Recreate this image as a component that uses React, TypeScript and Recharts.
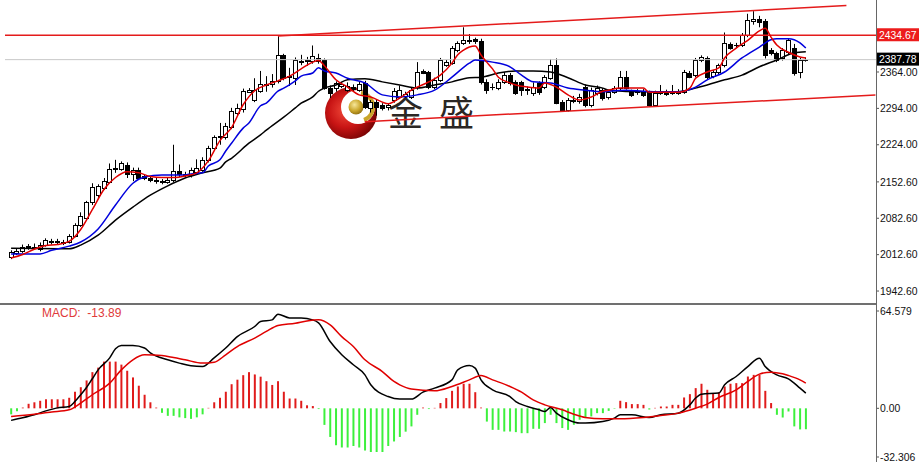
import React from 'react';
import { ComposedChart, Bar, Line, XAxis, YAxis, ReferenceLine, Cell } from 'recharts';

// daily candles, oldest first
const opens = [
  2009, 2015, 2019, 2029, 2027, 2024, 2032, 2039, 2037, 2035, 2037, 2049, 2070, 2084, 2113, 2127, 2141, 2153, 2177, 2178,
  2185, 2167, 2176, 2163, 2161, 2156, 2152, 2153, 2157, 2174, 2166, 2166, 2172, 2176, 2195, 2217, 2238, 2238, 2258, 2286,
  2292, 2326, 2310, 2328, 2339, 2340, 2347, 2396, 2354, 2352, 2384, 2385, 2385, 2391, 2387, 2334, 2333, 2338, 2330, 2336,
  2330, 2343, 2295, 2306, 2300, 2296, 2310, 2316, 2318, 2316, 2335, 2366, 2364, 2335, 2349, 2377, 2381, 2406, 2419, 2424,
  2427, 2424, 2345, 2335, 2333, 2345, 2358, 2345, 2344, 2330, 2324, 2343, 2335, 2353, 2377, 2306, 2291, 2309, 2308, 2335,
  2301, 2324, 2330, 2316, 2326, 2333, 2354, 2326, 2325, 2328, 2326, 2301, 2323, 2324, 2323, 2326, 2326, 2362, 2358, 2387,
  2391, 2356, 2364, 2377, 2418, 2415, 2416, 2435, 2463, 2465, 2462, 2406, 2400, 2390, 2402, 2410, 2364, 2387,
];
const highs = [
  2021, 2024, 2032, 2033, 2034, 2036, 2044, 2043, 2043, 2041, 2052, 2073, 2094, 2116, 2150, 2148, 2160, 2188, 2195, 2192,
  2190, 2180, 2180, 2166, 2164, 2160, 2158, 2160, 2224, 2186, 2172, 2180, 2196, 2200, 2222, 2242, 2266, 2266, 2295, 2303,
  2332, 2333, 2352, 2366, 2356, 2360, 2433, 2399, 2372, 2392, 2397, 2393, 2415, 2399, 2390, 2338, 2346, 2345, 2344, 2340,
  2346, 2347, 2310, 2312, 2304, 2304, 2333, 2338, 2326, 2334, 2383, 2369, 2366, 2353, 2391, 2387, 2414, 2423, 2450, 2437,
  2430, 2428, 2350, 2342, 2350, 2364, 2362, 2348, 2347, 2336, 2344, 2346, 2358, 2389, 2390, 2310, 2314, 2318, 2322, 2340,
  2334, 2338, 2333, 2330, 2337, 2366, 2366, 2330, 2331, 2331, 2328, 2328, 2339, 2330, 2339, 2331, 2368, 2366, 2391, 2396,
  2394, 2368, 2380, 2440, 2421, 2420, 2439, 2476, 2481, 2472, 2466, 2410, 2403, 2410, 2428, 2418, 2391, 2392,
];
const lows = [
  2004, 2012, 2016, 2022, 2022, 2019, 2028, 2032, 2033, 2031, 2034, 2046, 2066, 2080, 2108, 2122, 2137, 2150, 2170, 2174,
  2160, 2154, 2156, 2156, 2152, 2149, 2148, 2149, 2152, 2162, 2162, 2161, 2168, 2172, 2190, 2212, 2224, 2234, 2254, 2281,
  2286, 2324, 2306, 2324, 2326, 2334, 2342, 2348, 2337, 2339, 2377, 2376, 2380, 2380, 2330, 2314, 2326, 2333, 2326, 2326,
  2326, 2293, 2286, 2280, 2290, 2290, 2305, 2312, 2314, 2312, 2330, 2360, 2331, 2331, 2345, 2374, 2378, 2402, 2416, 2418,
  2418, 2340, 2322, 2329, 2329, 2341, 2338, 2320, 2318, 2320, 2318, 2320, 2331, 2349, 2302, 2288, 2288, 2304, 2303, 2296,
  2296, 2319, 2309, 2311, 2322, 2328, 2330, 2316, 2320, 2316, 2297, 2297, 2320, 2318, 2320, 2320, 2322, 2352, 2354, 2383,
  2350, 2352, 2360, 2373, 2407, 2410, 2412, 2431, 2455, 2450, 2390, 2396, 2383, 2386, 2398, 2357, 2352, 2384,
];
const closes = [
  2017, 2020, 2028, 2026, 2028, 2032, 2040, 2036, 2039, 2037, 2049, 2070, 2086, 2113, 2143, 2144, 2155, 2178, 2179, 2188,
  2168, 2176, 2161, 2161, 2156, 2154, 2154, 2156, 2174, 2167, 2168, 2176, 2180, 2195, 2218, 2238, 2240, 2261, 2289, 2295,
  2328, 2329, 2330, 2341, 2341, 2347, 2397, 2352, 2357, 2387, 2386, 2387, 2394, 2386, 2333, 2324, 2342, 2340, 2338, 2332,
  2340, 2297, 2306, 2297, 2294, 2300, 2328, 2330, 2321, 2330, 2364, 2362, 2335, 2349, 2387, 2383, 2410, 2419, 2425, 2426,
  2423, 2345, 2329, 2336, 2345, 2358, 2343, 2324, 2330, 2331, 2335, 2326, 2354, 2377, 2305, 2291, 2310, 2311, 2316, 2301,
  2330, 2333, 2314, 2325, 2333, 2354, 2333, 2320, 2326, 2320, 2301, 2324, 2326, 2322, 2326, 2324, 2364, 2355, 2387, 2393,
  2354, 2364, 2377, 2420, 2410, 2416, 2435, 2464, 2465, 2461, 2397, 2400, 2387, 2406, 2425, 2362, 2387, 2388,
];

// moving averages at the candle index shown
const fastIdx = [0, 2, 4, 6, 8, 10, 12, 14, 16, 18, 20, 22, 24, 26, 28, 30, 32, 34, 36, 38, 40, 42, 44, 46, 48, 50, 52, 53, 54, 56, 58, 60, 62, 65, 67, 69, 72, 74, 76, 77, 78, 79, 80, 81, 82, 83, 84, 86, 87, 89, 91, 92, 94, 96, 98, 100, 102, 103, 105, 109, 110, 115, 117, 118, 120, 122, 123, 125, 127, 129, 130, 131, 132, 134, 136, 137];
const fastVal = [2006, 2013, 2023, 2030, 2032, 2038, 2061, 2099, 2138, 2161, 2172, 2170, 2163, 2161, 2161, 2164, 2170, 2193, 2232, 2257, 2301, 2328, 2339, 2347, 2356, 2370, 2383, 2386, 2376, 2349, 2335, 2320, 2316, 2303, 2314, 2329, 2345, 2358, 2381, 2397, 2406, 2412, 2414, 2397, 2383, 2370, 2354, 2343, 2339, 2335, 2333, 2343, 2335, 2320, 2310, 2316, 2327, 2329, 2333, 2333, 2325, 2325, 2333, 2352, 2364, 2372, 2391, 2410, 2425, 2443, 2448, 2431, 2416, 2402, 2393, 2391];

const midIdx = [0, 5, 7, 10, 12, 15, 18, 21, 23, 26, 30, 31, 33, 34, 36, 37, 38, 40, 41, 43, 44, 46, 47, 49, 50, 52, 53, 54, 56, 58, 61, 64, 67, 70, 73, 76, 79, 80, 83, 86, 88, 90, 93, 96, 99, 102, 103, 106, 109, 112, 115, 118, 120, 123, 126, 129, 131, 132, 134, 136, 137];
const midVal = [2014, 2014, 2021, 2029, 2037, 2062, 2108, 2150, 2162, 2166, 2166, 2168, 2170, 2183, 2195, 2212, 2227, 2256, 2266, 2299, 2304, 2327, 2333, 2347, 2356, 2362, 2372, 2366, 2362, 2352, 2343, 2320, 2316, 2320, 2329, 2354, 2381, 2387, 2383, 2374, 2358, 2345, 2343, 2333, 2329, 2326, 2327, 2329, 2327, 2326, 2326, 2335, 2349, 2364, 2391, 2412, 2426, 2428, 2428, 2420, 2410];

const slowIdx = [0, 10, 12, 15, 18, 21, 24, 27, 30, 33, 36, 37, 38, 41, 43, 44, 47, 49, 50, 52, 53, 54, 56, 58, 61, 64, 67, 70, 73, 76, 79, 81, 84, 87, 90, 93, 96, 99, 102, 103, 109, 115, 118, 120, 123, 126, 129, 132, 135, 137];
const slowVal = [2025, 2024, 2031, 2050, 2079, 2104, 2127, 2145, 2160, 2170, 2179, 2191, 2198, 2227, 2243, 2252, 2277, 2295, 2304, 2316, 2327, 2333, 2339, 2349, 2351, 2345, 2339, 2333, 2339, 2345, 2353, 2354, 2362, 2366, 2366, 2364, 2353, 2339, 2333, 2329, 2326, 2326, 2333, 2339, 2349, 2358, 2374, 2387, 2401, 2403];

// MACD panel
const histVals = [
  -4, -2, 0.5, 3, 4, 5, 6, 6, 6, 6, 7, 11, 14, 18.5, 24, 27, 31, 31, 31, 29,
  25, 20.5, 15, 9, 4, 0.5, -3, -5, -5, -6, -6.5, -7, -6, -4, 0.3, 4, 7, 11, 16, 19,
  22, 24, 22.5, 21, 18, 15.5, 18, 11, 6.5, 6.5, 5, 2, 1.5, -0.5, -11, -19, -24.5, -26, -26, -25,
  -26, -28, -29, -29, -29, -25, -22, -19, -15.5, -12, -4.3, 0.5, -0.5, 0.3, 3.5, 6.8, 11.6, 14.5, 16.3, 16.3,
  10.7, 0.5, -8.8, -14.3, -14.3, -15.4, -15.4, -15.8, -16.5, -16.5, -13.6, -13.6, -9.8, -4.3, -9.8, -13.1, -14.3, -10.9, -7.6, -6.5,
  -5.4, -3.2, -3.2, -1.7, -0.3, 5, 4.1, 2.8, 2.8, 2.3, -0.8, 0.3, 1.2, 1.2, 2.3, 2.3, 7.2, 9.4, 13.4, 16.3,
  12.3, 10.1, 10.7, 14.5, 16.3, 16.7, 16.7, 21.1, 22.2, 22.2, 11.6, 3.5, -4.3, -6.1, -2.1, -12, -14, -13.89,
];
const difIdx = [0, 2, 4, 6, 8, 10, 11, 12, 13, 14, 15, 17, 18, 19, 21, 23, 24, 27, 29, 31, 33, 35, 37, 39, 42, 43, 45, 46, 48, 50, 52, 53, 55, 57, 59, 61, 62, 65, 67, 69, 71, 73, 76, 77, 79, 80, 81, 83, 86, 87, 89, 91, 92, 93, 94, 96, 98, 99, 102, 104, 105, 107, 110, 112, 115, 117, 118, 119, 122, 123, 125, 127, 129, 130, 132, 134, 136, 137];
const difVal = [-8, -6.3, -4.3, -1.7, 0.3, 1.2, 4.5, 9, 13.8, 19.6, 25.5, 33.5, 39.5, 41.7, 41.7, 40, 36.8, 32.2, 30, 28.2, 27.7, 33.5, 40, 47.6, 54.3, 57.6, 58.7, 62.5, 60, 60, 58.7, 56.7, 44.3, 35.5, 28.9, 22.2, 15.6, 7.8, 6.1, 6.1, 10.7, 13.4, 18.9, 25.5, 28.4, 26.7, 18.9, 12.3, 7.8, 4.5, 1.2, -1, -2.1, 0.5, -3.2, -7.6, -9.8, -9.8, -8.8, -6.5, -4.3, -4.3, -6.1, -4.3, -3.2, 2.3, 6.8, 9.4, 10.1, 15.6, 21.1, 27.7, 33.3, 27.7, 22.2, 19.6, 13.4, 10.1];
const deaIdx = [0, 4, 7, 10, 12, 14, 17, 19, 21, 23, 26, 28, 30, 33, 35, 37, 39, 42, 44, 46, 49, 51, 53, 55, 57, 59, 61, 64, 66, 67, 69, 73, 76, 79, 81, 83, 86, 88, 90, 92, 95, 97, 99, 102, 105, 109, 112, 115, 118, 120, 122, 125, 127, 129, 131, 133, 134, 136, 137];
const deaVal = [-5.4, -3.9, -2.5, -1, 3.5, 9, 16.7, 25.5, 32.2, 35.5, 35, 33.7, 32.2, 30, 30.6, 35.5, 41, 46.6, 51, 55, 56.5, 58, 58.7, 55.4, 47.6, 41, 32.2, 24.4, 17.8, 15.6, 12.8, 11.6, 14.5, 18.9, 21.8, 18.9, 14.5, 10.7, 5.6, 2.3, -1, -3.9, -6.1, -7, -7, -6.1, -4.8, -3.2, 0.1, 2.8, 7.2, 12.3, 17.8, 22.7, 24, 22.9, 21.8, 18.9, 16.7];

const priceTicks = [2364, 2294, 2224, 2152.6, 2082.6, 2012.6, 1942.6];
const macdTicks = [64.579, 0, -32.306];
const resistance = 2434.67;
const lastPrice = 2387.78;
const upperChannel = [{ x: 46, y: 2433.3 }, { x: 144, y: 2491.9 }];
const lowerChannel = [{ x: 61, y: 2268.5 }, { x: 149, y: 2319.7 }];

const FONT = '"Liberation Sans", Arial, sans-serif';
const AXIS_FONT = 10.4;
const xDomain: [number, number] = [-1.05, 149.1];

const priceRows: any[] = opens.map((o, i) => ({ i, o, h: highs[i], l: lows[i], c: closes[i] }));
fastIdx.forEach((k, j) => { priceRows[k].fast = fastVal[j]; });
midIdx.forEach((k, j) => { priceRows[k].mid = midVal[j]; });
slowIdx.forEach((k, j) => { priceRows[k].slow = slowVal[j]; });

const macdRows: any[] = histVals.map((v, i) => ({ i, hist: v }));
difIdx.forEach((k, j) => { macdRows[k].dif = difVal[j]; });
deaIdx.forEach((k, j) => { macdRows[k].dea = deaVal[j]; });

function Candle(props: any) {
  const { x, y, width, height, payload } = props;
  const { o, h, l, c } = payload;
  if (x == null || y == null) return null;
  const top = Math.min(y, y + height);
  const k = h > l ? Math.abs(height) / (h - l) : 0;
  const py = (v: number) => top + (h - v) * k;
  const cx = Math.round(x + width / 2);
  const left = cx - 2;
  const bTop = Math.round(py(Math.max(o, c)));
  const bBot = Math.round(py(Math.min(o, c)));
  let body;
  if (bBot - bTop < 1) {
    body = <line x1={left} x2={left + 5} y1={bTop + 0.5} y2={bTop + 0.5} stroke="#000" />;
  } else if (c >= o) {
    body = <rect x={left + 0.5} y={bTop + 0.5} width={4} height={bBot - bTop} fill="#fff" stroke="#000" />;
  } else {
    body = <rect x={left} y={bTop} width={5} height={bBot - bTop + 1} fill="#000" />;
  }
  return (
    <g>
      <line x1={cx + 0.5} x2={cx + 0.5} y1={py(h)} y2={py(l)} stroke="#000" />
      {body}
    </g>
  );
}

function PriceTag(props: any) {
  const { viewBox, text, bg } = props;
  if (!viewBox) return null;
  const left = viewBox.x + viewBox.width + 1;
  return (
    <g>
      <rect x={left} y={viewBox.y - 7} width={42} height={13} fill={bg} />
      <text x={left + 2} y={viewBox.y + 3.5} fill="#fff" fontSize={AXIS_FONT} fontFamily={FONT}>{text}</text>
    </g>
  );
}

function Logo() {
  return (
    <div style={{ position: 'absolute', left: 320, top: 82 }}>
      <svg width={64} height={64}>
        <defs>
          <radialGradient id="redBall" cx="40%" cy="45%" r="60%">
            <stop offset="0%" stopColor="#f24a3a" />
            <stop offset="55%" stopColor="#c81414" />
            <stop offset="100%" stopColor="#7a0404" />
          </radialGradient>
          <radialGradient id="goldBall" cx="40%" cy="35%" r="70%">
            <stop offset="0%" stopColor="#f7e79a" />
            <stop offset="60%" stopColor="#c9a52a" />
            <stop offset="100%" stopColor="#8c6c10" />
          </radialGradient>
        </defs>
        <circle cx={31} cy={31} r={26} fill="url(#redBall)" />
        <circle cx={38} cy={25} r={17} fill="#fff" />
        <path d="M 41 11 A 14 14 0 0 1 44 38" fill="none" stroke="#c9a52a" strokeWidth={4} />
        <circle cx={36} cy={25} r={7.5} fill="url(#goldBall)" />
      </svg>
    </div>
  );
}

export default function App() {
  const charStyle: React.CSSProperties = {
    position: 'absolute', top: 93, fontFamily: '"Noto Sans CJK SC", sans-serif',
    fontSize: 35, lineHeight: 1, color: '#2b2724',
  };
  const axisTick = { fontSize: AXIS_FONT, fontFamily: FONT, fill: '#111' };
  return (
    <div style={{ position: 'fixed', left: 0, top: 0, width: 919, height: 462, background: '#fff', overflow: 'hidden' }}>
      <Logo />
      <div style={{ ...charStyle, left: 388 }}>金</div>
      <div style={{ ...charStyle, left: 439 }}>盛</div>

      <div style={{ position: 'absolute', left: 0, top: 0 }}>
        <ComposedChart width={919} height={302} data={priceRows} margin={{ top: 0, right: 0, bottom: 0, left: 5 }}>
          <XAxis type="number" dataKey="i" domain={xDomain} allowDataOverflow hide />
          <YAxis
            orientation="right"
            width={43}
            domain={[1921.5, 2502.5]}
            allowDataOverflow
            ticks={priceTicks}
            interval={0}
            tickFormatter={(v: number) => v.toFixed(2)}
            axisLine={false}
            tickSize={3}
            tickMargin={1}
            tickLine={{ stroke: '#555' }}
            tick={axisTick}
          />
          <ReferenceLine y={lastPrice} stroke="#c8c8c8" strokeWidth={1} label={<PriceTag text={lastPrice.toFixed(2)} bg="#000" />} />
          <ReferenceLine y={resistance} stroke="#e41b1b" strokeWidth={1.5} label={<PriceTag text={resistance.toFixed(2)} bg="#ec1c1c" />} />
          <ReferenceLine segment={upperChannel} stroke="#e41b1b" strokeWidth={1.5} />
          <ReferenceLine segment={lowerChannel} stroke="#e41b1b" strokeWidth={1.5} />
          <Bar dataKey={(d: any) => [d.l, d.h]} barSize={5} shape={<Candle />} isAnimationActive={false} />
          <Line type="monotone" dataKey="slow" stroke="#000" strokeWidth={1.5} dot={false} connectNulls isAnimationActive={false} />
          <Line type="monotone" dataKey="mid" stroke="#0000dd" strokeWidth={1.5} dot={false} connectNulls isAnimationActive={false} />
          <Line type="monotone" dataKey="fast" stroke="#e00000" strokeWidth={1.5} dot={false} connectNulls isAnimationActive={false} />
        </ComposedChart>
      </div>

      <div style={{ position: 'absolute', left: 0, top: 303, width: 877, height: 2, background: '#707070' }} />

      <div style={{ position: 'absolute', left: 0, top: 306 }}>
        <ComposedChart width={919} height={156} data={macdRows} margin={{ top: 5, right: 0, bottom: 5, left: 5 }}>
          <XAxis type="number" dataKey="i" domain={xDomain} allowDataOverflow hide />
          <YAxis
            orientation="right"
            width={43}
            domain={[-32.306, 64.579]}
            allowDataOverflow
            ticks={macdTicks}
            interval={0}
            tickFormatter={(v: number) => (v === 0 ? '0.00' : String(v))}
            axisLine={false}
            tickSize={3}
            tickMargin={1}
            tickLine={{ stroke: '#555' }}
            tick={axisTick}
          />
          <Bar dataKey="hist" barSize={2} isAnimationActive={false}>
            {macdRows.map((r) => (
              <Cell key={r.i} fill={r.hist >= 0 ? '#e01b1b' : '#3cf03c'} />
            ))}
          </Bar>
          <Line type="monotone" dataKey="dif" stroke="#000" strokeWidth={1.5} dot={false} connectNulls isAnimationActive={false} />
          <Line type="monotone" dataKey="dea" stroke="#e00000" strokeWidth={1.5} dot={false} connectNulls isAnimationActive={false} />
        </ComposedChart>
      </div>

      <div style={{ position: 'absolute', left: 876, top: 0, width: 1, height: 462, background: '#666' }} />

      <div style={{ position: 'absolute', left: 42, top: 306, fontFamily: FONT, fontSize: 12, color: '#e03a3a', whiteSpace: 'pre' }}>
        {'MACD:  ' + histVals[histVals.length - 1].toFixed(2)}
      </div>
    </div>
  );
}
